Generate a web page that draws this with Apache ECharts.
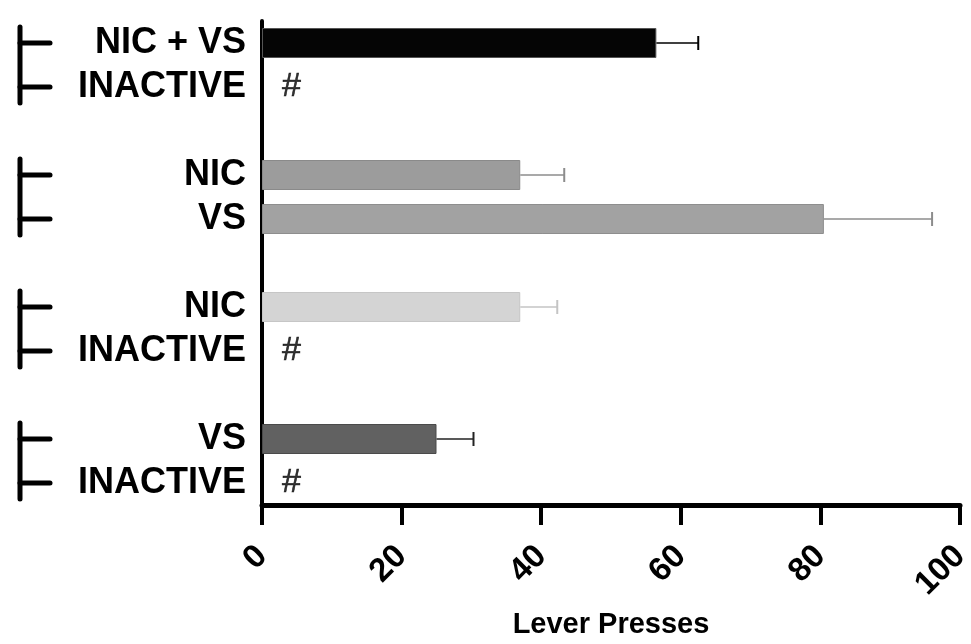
<!DOCTYPE html>
<html><head><meta charset="utf-8">
<script src="https://cdn.jsdelivr.net/npm/echarts@6/dist/echarts.min.js"></script>
<style>html,body{margin:0;padding:0;background:#fff}#c{width:971px;height:644px}</style>
</head><body><div id="c"></div>
<script>
var categories = ['NIC + VS','INACTIVE','','NIC','VS','','NIC','INACTIVE','','VS','INACTIVE'];
var values     = [56.5, 0, null, 37, 80.5, null, 37, 0, null, 25, 0];
var errors     = [6, null, null, 6.3, 15.5, null, 5.3, null, null, 5.3, null];
var barColors  = ['#050505', null, null, '#9c9c9c', '#a2a2a2', null, '#d4d4d4', null, null, '#616161', null];
var barBorders = ['#555555', null, null, '#8a8a8a', '#8e8e8e', null, '#c6c6c6', null, null, '#4a4a4a', null];
var errColors  = ['#000000', null, null, '#8c8c8c', '#8c8c8c', null, '#c4c4c4', null, null, '#222222', null];
var hashRows   = [1, 7, 10];
var groups     = [[0, 1], [3, 4], [6, 7], [9, 10]];
var xTicks     = [0, 20, 40, 60, 80, 100];

var chart = echarts.init(document.getElementById('c'), null, {renderer:'canvas'});
var barData = values.map(function(v, i){
  if (v === null || v === 0) return null;
  return {value: v, itemStyle: {color: barColors[i], borderColor: barBorders[i], borderWidth: 1}};
});
var errData = [];
values.forEach(function(v, i){ if (errors[i] != null) errData.push([v, i, v + errors[i]]); });
var hashData = hashRows.map(function(r){ return [0, r]; });
var bracketData = groups.map(function(g){ return [0, g[0], g[1]]; });

chart.setOption({
  animation: false,
  grid: {left: 262, right: 11, top: 21, bottom: 139, containLabel: false, outerBoundsMode: 'none'},
  xAxis: {
    type: 'value', min: xTicks[0], max: xTicks[xTicks.length-1], interval: 20,
    axisLine: {show: true, lineStyle: {color: '#000', width: 5}},
    axisTick: {show: true, length: 20, lineStyle: {color: '#000', width: 4}},
    splitLine: {show: false},
    axisLabel: {rotate: 45, margin: 46, fontFamily: 'Liberation Sans, Arial, sans-serif', fontWeight: 'bold', fontSize: 33, color: '#000'},
    name: 'Lever Presses', nameLocation: 'middle', nameGap: 105,
    nameTextStyle: {fontFamily: 'Liberation Sans, Arial, sans-serif', fontWeight: 'bold', fontSize: 29, color: '#000'}
  },
  yAxis: {
    type: 'category', data: categories, inverse: true,
    axisLine: {show: true, lineStyle: {color: '#000', width: 4}},
    axisTick: {show: false},
    axisLabel: {interval: 0, margin: 16, fontFamily: 'Liberation Sans, Arial, sans-serif', fontWeight: 'bold', fontSize: 36, color: '#000'}
  },
  series: [
    {type: 'bar', data: barData, barWidth: 30, z: 2},
    {type: 'custom', data: errData, clip: false, z: 3, encode: {x: [0, 2], y: 1},
      renderItem: function(params, api){
        var i = api.value(1);
        var a = api.coord([api.value(0), i]);
        var b = api.coord([api.value(2), i]);
        var col = errColors[i];
        return {type: 'group', children: [
          {type: 'line', shape: {x1: a[0], y1: a[1], x2: b[0], y2: b[1]}, style: {stroke: col, lineWidth: 1.6}},
          {type: 'line', shape: {x1: b[0], y1: b[1]-7, x2: b[0], y2: b[1]+7}, style: {stroke: col, lineWidth: 2}}
        ]};
      }},
    {type: 'scatter', data: hashData, symbolSize: 0, z: 4,
      label: {show: true, position: 'right', distance: 20, formatter: '#', fontFamily: 'Liberation Sans, Arial, sans-serif', fontSize: 34, color: '#000', textBorderColor: '#000', textBorderWidth: 0.6}},
    {type: 'custom', data: bracketData, clip: false, z: 5, encode: {x: 0, y: [1, 2]},
      renderItem: function(params, api){
        var p1 = api.coord([0, api.value(1)]);
        var p2 = api.coord([0, api.value(2)]);
        var x0 = 20, x1 = 50;
        var st = {stroke: '#000', lineWidth: 5, lineCap: 'round'};
        return {type: 'group', children: [
          {type: 'line', shape: {x1: x0, y1: p1[1]-16, x2: x0, y2: p2[1]+16}, style: st},
          {type: 'line', shape: {x1: x0, y1: p1[1], x2: x1, y2: p1[1]}, style: st},
          {type: 'line', shape: {x1: x0, y1: p2[1], x2: x1, y2: p2[1]}, style: st}
        ]};
      }}
  ]
});
</script>
</body></html>
